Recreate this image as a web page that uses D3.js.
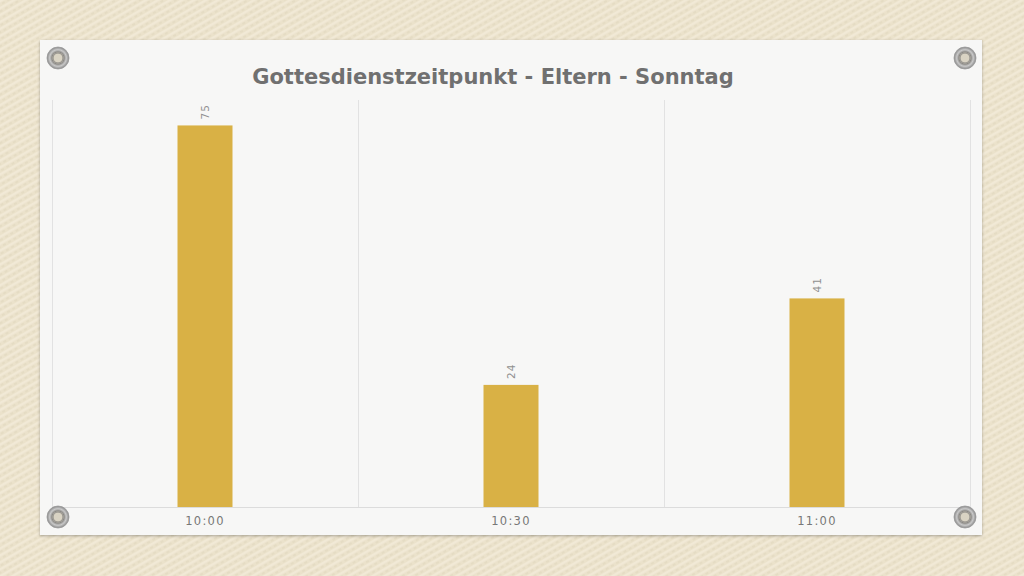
<!DOCTYPE html>
<html><head><meta charset="utf-8">
<script src="https://cdn.jsdelivr.net/npm/d3@7"></script>
<style>html,body{margin:0;padding:0;background:#ebe1c8;}svg{display:block;}</style>
</head><body>
<svg id="c" width="1024" height="576"></svg>
<script>
const categories = ["10:00", "10:30", "11:00"];
const values = [75, 24, 41];
const title = "Gottesdienstzeitpunkt - Eltern - Sonntag";

const svg = d3.select("#c");
const defs = svg.append("defs");
const pat = defs.append("pattern").attr("id","weave").attr("width",6).attr("height",6)
  .attr("patternUnits","userSpaceOnUse").attr("patternTransform","rotate(-30)");
pat.append("rect").attr("width",6).attr("height",6).attr("fill","#ebe2cb");
pat.append("rect").attr("x",0).attr("y",0).attr("width",6).attr("height",2.4).attr("fill","#f1e9d6");
pat.append("rect").attr("x",0).attr("y",3.5).attr("width",3).attr("height",1).attr("fill","#e0d6be");
const sh = defs.append("filter").attr("id","sh").attr("x","-5%").attr("y","-5%").attr("width","110%").attr("height","110%");
sh.append("feDropShadow").attr("dx",0).attr("dy",1).attr("stdDeviation",1.5).attr("flood-color","#000").attr("flood-opacity",0.3);
const gr = defs.append("radialGradient").attr("id","gro");
gr.append("stop").attr("offset","0%").attr("stop-color","#d8d3c8");
gr.append("stop").attr("offset","45%").attr("stop-color","#cfc9bb");
gr.append("stop").attr("offset","55%").attr("stop-color","#8c8a86");
gr.append("stop").attr("offset","75%").attr("stop-color","#c9c9c9");
gr.append("stop").attr("offset","100%").attr("stop-color","#8a8a8a");

svg.append("rect").attr("width",1024).attr("height",576).attr("fill","url(#weave)");
svg.append("rect").attr("x",40).attr("y",40).attr("width",942).attr("height",495)
  .attr("fill","#f7f7f6").attr("filter","url(#sh)");

const pLeft = 52, pRight = 970, pTop = 100, pBottom = 507;
const x = d3.scaleBand().domain(categories).range([pLeft,pRight]).paddingInner(0).paddingOuter(0);
const y = d3.scaleLinear().domain([0,80]).range([pBottom,pTop]);
const barW = 55;

const g = svg.append("g");
const edges = categories.map(c=>x(c)).concat([pRight]);
g.selectAll("line.div").data(edges).join("line").attr("class","div")
  .attr("x1",d=>d+0.5).attr("x2",d=>d+0.5).attr("y1",pTop).attr("y2",pBottom)
  .attr("stroke","#e2e2e2").attr("stroke-width",1);
g.append("line").attr("x1",pLeft).attr("x2",pRight).attr("y1",pBottom+0.5).attr("y2",pBottom+0.5)
  .attr("stroke","#dcdcdc").attr("stroke-width",1);

g.selectAll("rect.bar").data(values).join("rect").attr("class","bar")
  .attr("x",(d,i)=>x(categories[i])+x.bandwidth()/2-barW/2)
  .attr("width",barW)
  .attr("y",d=>y(d)).attr("height",d=>pBottom-y(d))
  .attr("fill","#d9b145");

g.selectAll("text.val").data(values).join("text").attr("class","val")
  .attr("transform",(d,i)=>`translate(${x(categories[i])+x.bandwidth()/2+4},${y(d)-6}) rotate(-90)`)
  .attr("font-family","'DejaVu Sans', sans-serif").attr("font-size",10.5)
  .attr("fill","#909090").attr("letter-spacing",1)
  .text(d=>d);

const xAxis = d3.axisBottom(x).tickSize(0).tickPadding(10);
const ax = svg.append("g").attr("transform",`translate(0,${pBottom})`).call(xAxis);
ax.select(".domain").remove();
ax.selectAll("text").attr("font-family","'DejaVu Sans', sans-serif").attr("font-size",11.5)
  .attr("fill","#777777").attr("letter-spacing",1.3);

[[58,58],[965,58],[58,517],[965,517]].forEach(([cx,cy])=>{
  svg.append("circle").attr("cx",cx).attr("cy",cy).attr("r",11).attr("fill","url(#gro)").attr("stroke","#9a9a9a").attr("stroke-width",0.8);
  svg.append("circle").attr("cx",cx).attr("cy",cy).attr("r",5).attr("fill","#d9d3c3").attr("stroke","#8f8d88").attr("stroke-width",1);
});

svg.append("text").attr("x",493).attr("y",84).attr("text-anchor","middle")
  .attr("font-family","'DejaVu Sans', sans-serif").attr("font-weight","bold").attr("font-size",21)
  .attr("fill","#707070").text(title);
</script>
</body></html>
